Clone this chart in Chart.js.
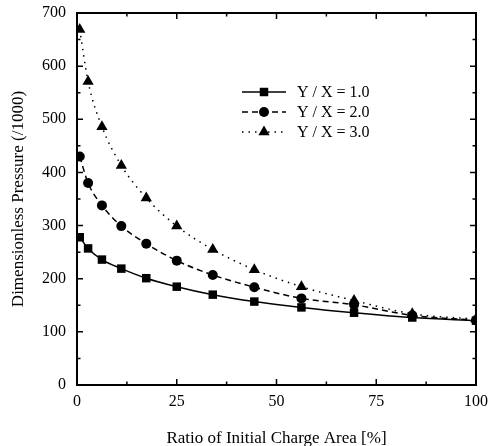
<!DOCTYPE html>
<html>
<head>
<meta charset="utf-8">
<script src="https://cdn.jsdelivr.net/npm/chart.js@4.4.1/dist/chart.umd.min.js"></script>
<style>
  html, body { margin: 0; padding: 0; background: #ffffff; }
  #wrap { width: 489px; height: 446px; position: relative; }
</style>
</head>
<body>
<div id="wrap"><canvas id="chart"></canvas></div>
<script>
const chargeArea = [0.69, 2.78, 6.25, 11.11, 17.36, 25, 34.03, 44.44, 56.25, 69.44, 84.03, 100];
const ratio1 = [278, 257, 236, 219, 201, 185, 170, 157, 146, 136, 127, 121];
const ratio2 = [430, 380, 338, 299, 266, 234, 207, 184, 163, 151, 131, 122];
const ratio3 = [669, 571, 486, 413, 352, 299, 255, 217, 185, 159, 134, 124];
const seriesLabels = ["Y / X = 1.0", "Y / X = 2.0", "Y / X = 3.0"];
const xTickValues = [0, 25, 50, 75, 100];
const yTickValues = [0, 100, 200, 300, 400, 500, 600, 700];

const FONT = "'Liberation Serif', 'Times New Roman', serif";

function toPoints(values) {
  return values.map((v, i) => ({ x: chargeArea[i], y: v }));
}

function makeSeries(label, values, style, dash, radius) {
  return {
    label,
    data: toPoints(values),
    borderColor: "#000",
    backgroundColor: "#000",
    borderWidth: 1.5,
    borderDash: dash,
    pointStyle: style,
    pointRadius: radius,
    pointBorderWidth: 0,
    pointBackgroundColor: "#000",
    showLine: true,
    fill: false,
    tension: 0.4,
    cubicInterpolationMode: "monotone",
  };
}

// box frame with inward major / minor ticks on all four sides
const frameTicks = {
  id: "frameTicks",
  afterDraw(chart) {
    const { ctx, chartArea: a, scales } = chart;
    ctx.save();
    ctx.strokeStyle = "#000";
    ctx.lineWidth = 1.5;
    for (let v = 0; v <= 100; v += 12.5) {
      const px = scales.x.getPixelForValue(v);
      const len = v % 25 === 0 ? 6 : 3.5;
      ctx.beginPath();
      ctx.moveTo(px, a.bottom); ctx.lineTo(px, a.bottom - len);
      ctx.moveTo(px, a.top); ctx.lineTo(px, a.top + len);
      ctx.stroke();
    }
    for (let v = 0; v <= 700; v += 50) {
      const py = scales.y.getPixelForValue(v);
      const len = v % 100 === 0 ? 6 : 3.5;
      ctx.beginPath();
      ctx.moveTo(a.left, py); ctx.lineTo(a.left + len, py);
      ctx.moveTo(a.right, py); ctx.lineTo(a.right - len, py);
      ctx.stroke();
    }
    ctx.lineWidth = 2;
    ctx.strokeRect(a.left, a.top, a.right - a.left, a.bottom - a.top);
    ctx.restore();
  },
};

// legend drawn inside the plot: line sample + marker + label
const innerLegend = {
  id: "innerLegend",
  afterDatasetsDraw(chart) {
    const { ctx } = chart;
    const x0 = 242, x1 = 286, textX = 297;
    const rows = [92, 112, 132];
    ctx.save();
    chart.data.datasets.forEach((ds, i) => {
      const y = rows[i];
      ctx.strokeStyle = "#000";
      ctx.fillStyle = "#000";
      ctx.lineWidth = ds.borderWidth;
      ctx.setLineDash(ds.borderDash || []);
      ctx.beginPath();
      ctx.moveTo(x0, y);
      ctx.lineTo(x1, y);
      ctx.stroke();
      ctx.setLineDash([]);
      Chart.helpers.drawPoint(ctx, {
        pointStyle: ds.pointStyle,
        radius: ds.pointRadius,
        rotation: 0,
        borderWidth: 0,
      }, (x0 + x1) / 2, y);
      ctx.font = "16px " + FONT;
      ctx.textBaseline = "middle";
      ctx.textAlign = "left";
      ctx.fillText(ds.label, textX, y + 1);
    });
    ctx.restore();
  },
};

new Chart(document.getElementById("chart"), {
  type: "scatter",
  data: {
    datasets: [
      makeSeries(seriesLabels[0], ratio1, "rect", [], 6),
      makeSeries(seriesLabels[1], ratio2, "circle", [6, 4], 5),
      makeSeries(seriesLabels[2], ratio3, "triangle", [1.5, 5], 6.5),
    ],
  },
  options: {
    responsive: true,
    maintainAspectRatio: false,
    animation: false,
    layout: { padding: { top: 13, right: 13, left: 0, bottom: 0 } },
    plugins: {
      legend: { display: false },
      tooltip: { enabled: false },
    },
    scales: {
      x: {
        type: "linear",
        min: 0,
        max: 100,
        afterFit(scale) {
          scale.height = 61;
          scale.paddingLeft = 0;
          scale.paddingRight = 0;
        },
        afterBuildTicks(scale) { scale.ticks = xTickValues.map((v) => ({ value: v })); },
        grid: { display: false, drawTicks: false },
        border: { display: false },
        ticks: {
          color: "#000",
          padding: 7,
          maxRotation: 0,
          font: { family: FONT, size: 16 },
        },
        title: {
          display: true,
          text: "Ratio of Initial Charge Area [%]",
          color: "#000",
          font: { family: FONT, size: 17 },
          padding: { top: 0, bottom: -3 },
        },
      },
      y: {
        type: "linear",
        min: 0,
        max: 700,
        afterFit(scale) {
          scale.width = 77;
          scale.paddingTop = 0;
          scale.paddingBottom = 0;
        },
        afterBuildTicks(scale) { scale.ticks = yTickValues.map((v) => ({ value: v })); },
        grid: { display: false, drawTicks: false },
        border: { display: false },
        ticks: {
          color: "#000",
          padding: 11,
          font: { family: FONT, size: 16 },
        },
        title: {
          display: true,
          text: "Dimensionless Pressure (/1000)",
          color: "#000",
          font: { family: FONT, size: 17 },
          padding: { top: 8, bottom: 0 },
        },
      },
    },
  },
  plugins: [frameTicks, innerLegend],
});
</script>
</body>
</html>
